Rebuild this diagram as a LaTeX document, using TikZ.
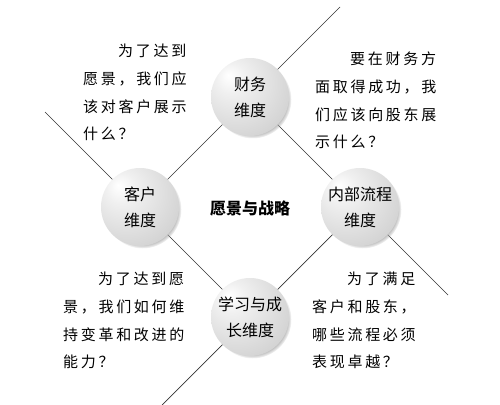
\documentclass[tikz,border=0pt]{standalone}
\usepackage{fontspec}
\setmainfont{Noto Sans CJK SC}
\newfontfamily\cjk[LetterSpace=18]{Noto Sans CJK SC}
\usetikzlibrary{shadows}
\usetikzlibrary{backgrounds}
\pgfdeclareradialshading{sphereshade}{\pgfpoint{-14bp}{14bp}}{color(0bp)=(white);
  color(10bp)=(gray!12); color(30bp)=(gray!30); color(50bp)=(gray!48); color(72bp)=(gray!60)}

\begin{document}
\begin{tikzpicture}[line cap=round,line join=round,x=1pt,y=-1pt,
  sphere/.style={circle,minimum size=78pt,inner sep=0pt,shade,shading=sphereshade,align=center,
    circular drop shadow={shadow xshift=2.5pt,shadow yshift=-2.5pt,shadow scale=1,fill=gray!70},
    font=\fontsize{16}{26}\selectfont},
  question/.style={anchor=north west,inner sep=0pt,align=left,font=\cjk\fontsize{15}{27.7}\selectfont},
  spoke/.style={line width=0.7pt,black!80}]
\useasboundingbox (0,0) rectangle (500,404);
% the four perspectives
\node [sphere] (fin) at (250,97) {财务\\维度};
\node [sphere] (cust) at (140,207) {客户\\维度};
\node [sphere] (proc) at (360,207) {内部流程\\维度};
\node [sphere] (learn) at (250,317) {学习与成\\长维度};
\node [font=\fontsize{16}{20}\selectfont\bfseries] (vision) at (250,208) {愿景与战略};
% free ends of the spokes
\coordinate (finEnd) at (340,7);
\coordinate (custEnd) at (45,112);
\coordinate (learnEnd) at (162,405);
\coordinate (procEnd) at (448,295);
\begin{pgfonlayer}{background}
\draw [spoke] (finEnd) -- (fin.center) -- (cust.center);
\draw [spoke] (custEnd) -- (cust.center) -- (learn.center);
\draw [spoke] (learnEnd) -- (learn.center) -- (proc.center);
\draw [spoke] (procEnd) -- (proc.center) -- (fin.center);
\end{pgfonlayer}
% questions
\node [question] (qcust) at (83,44) {\hspace*{35pt}为了达到\\愿景，我们应\\该对客户展示\\什么？};
\node [question] (qfin) at (315,52) {\hspace*{35pt}要在财务方\\面取得成功，我\\们应该向股东展\\示什么？};
\node [question] (qlearn) at (63,272) {\hspace*{35pt}为了达到愿\\景，我们如何维\\持变革和改进的\\能力？};
\node [question] (qproc) at (312,272) {\hspace*{35pt}为了满足\\客户和股东，\\哪些流程必须\\表现卓越？};
\end{tikzpicture}
\end{document}
